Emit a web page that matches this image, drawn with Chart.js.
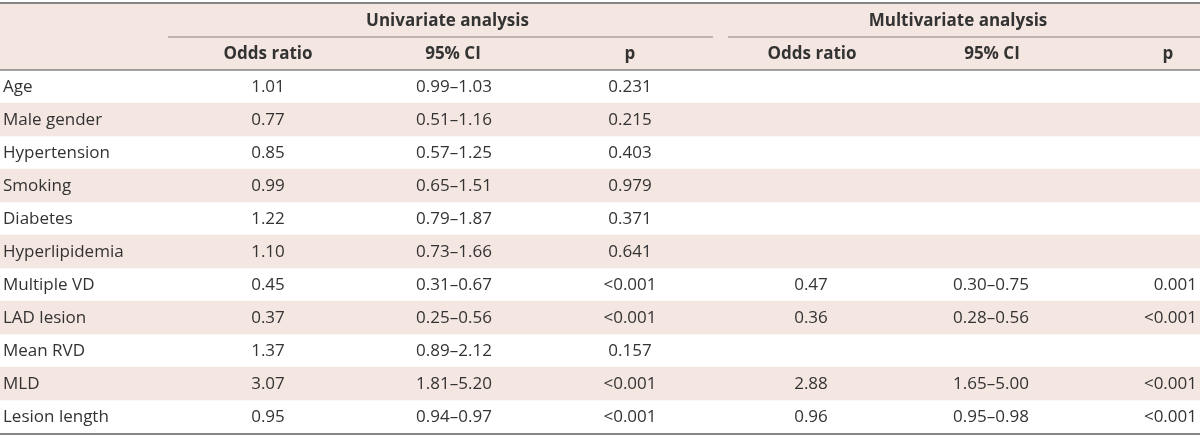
<!DOCTYPE html>
<html>
<head>
<meta charset="utf-8">
<script src="https://cdn.jsdelivr.net/npm/chart.js@4/dist/chart.umd.min.js"></script>
<style>
  body { margin: 0; background: #fff; }
  #wrap { width: 1200px; height: 438px; }
</style>
</head>
<body>
<div id="wrap"><canvas id="myChart"></canvas></div>
<script>
// table contents
var groupHeaders = ['Univariate analysis', 'Multivariate analysis'];
var colHeaders = ['Odds ratio', '95% CI', 'p', 'Odds ratio', '95% CI', 'p'];
var variables = ['Age', 'Male gender', 'Hypertension', 'Smoking', 'Diabetes', 'Hyperlipidemia',
  'Multiple VD', 'LAD lesion', 'Mean RVD', 'MLD', 'Lesion length'];
var uniOR = ['1.01', '0.77', '0.85', '0.99', '1.22', '1.10', '0.45', '0.37', '1.37', '3.07', '0.95'];
var uniCI = ['0.99\u20131.03', '0.51\u20131.16', '0.57\u20131.25', '0.65\u20131.51', '0.79\u20131.87',
  '0.73\u20131.66', '0.31\u20130.67', '0.25\u20130.56', '0.89\u20132.12', '1.81\u20135.20', '0.94\u20130.97'];
var uniP = ['0.231', '0.215', '0.403', '0.979', '0.371', '0.641', '<0.001', '<0.001', '0.157', '<0.001', '<0.001'];
var multiOR = ['', '', '', '', '', '', '0.47', '0.36', '', '2.88', '0.96'];
var multiCI = ['', '', '', '', '', '', '0.30\u20130.75', '0.28\u20130.56', '', '1.65\u20135.00', '0.95\u20130.98'];
var multiP = ['', '', '', '', '', '', '0.001', '<0.001', '', '<0.001', '<0.001'];

// layout (x positions on a 0..1200 scale)
var colX = [268, 454, 630, 811, 991, 1197];
var colAlign = ['center', 'center', 'center', 'center', 'center', 'right'];
var headX = [268, 453, 630, 812, 992, 1168];
var groupSpan = [[168, 713], [728, 1200]];

var rowKeys = ['h1', 'h2'].concat(variables);
var shaded = rowKeys.map(function(k, i) {
  return (i < 2 || (i - 2) % 2 === 1) ? 1200 : null;
});

var ink = '#333333';
var rule = '#858585';
var fontFam = '"Open Sans", "Noto Sans", sans-serif';

var tablePlugin = {
  id: 'tableText',
  afterDatasetsDraw: function(chart) {
    var ctx = chart.ctx;
    var xs = chart.scales.x, ys = chart.scales.y;
    var half = (ys.getPixelForValue(1) - ys.getPixelForValue(0)) / 2;
    ctx.save();
    ctx.fillStyle = ink;
    ctx.textBaseline = 'middle';

    // group headers + underline
    ctx.font = 'bold 17px ' + fontFam;
    ctx.textAlign = 'center';
    groupHeaders.forEach(function(t, i) {
      var a = xs.getPixelForValue(groupSpan[i][0]), b = xs.getPixelForValue(groupSpan[i][1]);
      ctx.fillText(t, (a + b) / 2 + (i === 0 ? 7 : -6), ys.getPixelForValue(0) + 1);
      ctx.strokeStyle = rule;
      ctx.lineWidth = 1.2;
      ctx.beginPath();
      ctx.moveTo(a, ys.getPixelForValue(0) + half);
      ctx.lineTo(b, ys.getPixelForValue(0) + half);
      ctx.stroke();
    });
    colHeaders.forEach(function(t, i) {
      ctx.fillText(t, xs.getPixelForValue(headX[i]), ys.getPixelForValue(1) + 1);
    });

    // body
    ctx.font = '17px ' + fontFam;
    var cols = [uniOR, uniCI, uniP, multiOR, multiCI, multiP];
    variables.forEach(function(v, r) {
      var y = ys.getPixelForValue(r + 2) + 1;
      ctx.textAlign = 'left';
      ctx.fillText(v, xs.getPixelForValue(3), y);
      cols.forEach(function(col, c) {
        if (!col[r]) return;
        ctx.textAlign = colAlign[c];
        ctx.fillText(col[r], xs.getPixelForValue(colX[c]), y);
      });
    });

    // rules
    ctx.strokeStyle = rule;
    var top = ys.getPixelForValue(0) - half;
    var mid = ys.getPixelForValue(1) + half;
    var bot = ys.getPixelForValue(rowKeys.length - 1) + half;
    [[top - 1, 2], [mid, 1.5], [bot + 1, 2]].forEach(function(l) {
      ctx.lineWidth = l[1];
      ctx.beginPath();
      ctx.moveTo(xs.left, l[0]);
      ctx.lineTo(xs.right, l[0]);
      ctx.stroke();
    });
    ctx.restore();
  }
};

var ctx = document.getElementById('myChart').getContext('2d');
var myChart = new Chart(ctx, {
  type: 'bar',
  data: {
    labels: rowKeys,
    datasets: [{
      data: shaded,
      backgroundColor: '#f4e6e0',
      barPercentage: 1,
      categoryPercentage: 1,
      borderWidth: 0
    }]
  },
  options: {
    indexAxis: 'y',
    responsive: true,
    maintainAspectRatio: false,
    animation: false,
    layout: { padding: { top: 4, bottom: 5, left: 0, right: 0 } },
    plugins: { legend: { display: false }, tooltip: { enabled: false } },
    scales: {
      x: { type: 'linear', min: 0, max: 1200, display: false },
      y: { display: false, offset: true }
    }
  },
  plugins: [tablePlugin]
});
</script>
</body>
</html>
